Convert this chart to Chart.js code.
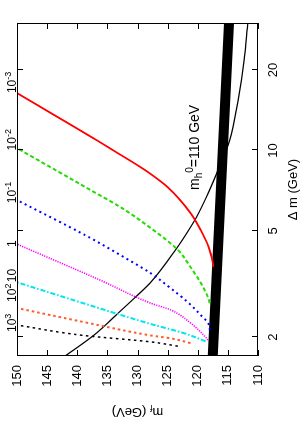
<!DOCTYPE html>
<html>
<head>
<meta charset="utf-8">
<script src="https://cdn.jsdelivr.net/npm/chart.js"></script>
<style>
  html, body { margin: 0; padding: 0; background: #fff; overflow: hidden; }
  /* the figure is drawn upright and then turned a quarter turn to the left */
  #wrap { position: absolute; left: 0; top: 427px; width: 427px; height: 300px;
          transform-origin: 0 0; transform: rotate(-90deg); }
</style>
</head>
<body>
<div id="wrap"><canvas id="c" width="427" height="300"></canvas></div>
<script>
// Achsen
const dmTicks = [2, 5, 10, 20];
const mfTicks = [110, 115, 120, 125, 130, 135, 140, 145, 150];

// Konturen (Δm in GeV, m_f in GeV)
const redDm = [16.4, 10.9, 10.0, 8.66, 8.16, 7.29, 5.83, 5.03, 4.35, 3.79, 3.66];
const redMf = [150, 136.7, 134, 129.5, 127.8, 125, 121.2, 119.5, 118.2, 117.5, 117.4];

const greenDm = [10.2, 7.11, 6.03, 5.12, 4.24, 3.66, 3.19, 2.82, 2.68];
const greenMf = [150, 137.8, 132.3, 127.8, 123.3, 121.2, 119.5, 118.3, 118.0];

const blueDm = [6.52, 4.70, 3.99, 3.47, 3.05, 2.71, 2.42, 2.26, 2.12];
const blueMf = [150, 137.8, 132.3, 127.8, 124.5, 121.7, 119.5, 118.3, 118.0];

const magentaDm = [4.46, 3.27, 2.68, 2.53, 2.26, 2.00, 1.95];
const magentaMf = [150, 136.2, 127.8, 124.5, 121.2, 118.7, 118.3];

const cyanDm = [3.21, 2.68, 2.24, 2.07, 1.93];
const cyanMf = [150, 139, 127.8, 122.3, 118.7];

const orangeDm = [2.57, 2.28, 2.03, 1.98, 1.90];
const orangeMf = [150, 139, 127.8, 124.5, 121.2];

const blackDm = [2.22, 2.03, 1.92, 1.85];
const blackMf = [150, 139, 127.8, 123.3];

// m_h0 = 110 GeV
const higgsDm = [1.70, 2.03, 2.46, 2.87, 3.21, 4.24, 5.16, 5.58, 6.98, 8.59, 10.9, 15.4, 21.8, 30.0];
const higgsMf = [142, 137.3, 133.2, 130, 127.8, 123.7, 121.2, 120.3, 118.2, 116.5, 114.7, 113.3, 112.3, 111.7];

// dicker Balken
const bandDm = [1.7, 30];
const bandMf = [117.5, 114.8];

// Beschriftung der Konturen am oberen Rand
const curveLabelBase = ['10', '10', '10', '1', '10', '10', '10'];
const curveLabelExp = ['-3', '-2', '-1', '', '', '2', '3'];
const curveLabelDm = [16.4, 10.0, 6.35, 4.35, 3.21, 2.71, 2.09];

const FONT = '"Liberation Sans", Arial, sans-serif';
const pts = (xs, ys) => xs.map((x, i) => ({ x, y: ys[i] })).sort((a, b) => a.x - b.x);

function line(data, color, width, dash) {
  return {
    data, showLine: true, borderColor: color, borderWidth: width,
    borderDash: dash || [], borderCapStyle: 'butt',
    cubicInterpolationMode: 'monotone',
    pointRadius: 0, fill: false
  };
}

// Text mit Hoch-/Tiefstellung, Stück für Stück
function drawRich(ctx, parts, x, y) {
  ctx.textAlign = 'left';
  ctx.textBaseline = 'alphabetic';
  parts.forEach(p => {
    if (!p.t) return;
    ctx.font = p.size + 'px ' + FONT;
    ctx.fillText(p.t, x, y + (p.dy || 0));
    x += ctx.measureText(p.t).width;
  });
}
function richWidth(ctx, parts) {
  let w = 0;
  parts.forEach(p => { if (!p.t) return; ctx.font = p.size + 'px ' + FONT; w += ctx.measureText(p.t).width; });
  return w;
}

const framePlugin = {
  id: 'frame',
  afterDraw(chart) {
    const { ctx, chartArea: a } = chart;
    const xs = chart.scales.x, ys = chart.scales.y;
    ctx.save();
    ctx.strokeStyle = '#000';
    ctx.fillStyle = '#000';
    ctx.lineWidth = 1;
    ctx.strokeRect(a.left + 0.5, a.top + 0.5, a.right - a.left - 1, a.bottom - a.top - 1);

    // Ticks nach innen, auf allen vier Seiten
    const tl = 6;
    ctx.beginPath();
    dmTicks.forEach(v => {
      const px = Math.round(xs.getPixelForValue(v)) + 0.5;
      ctx.moveTo(px, a.bottom); ctx.lineTo(px, a.bottom - tl);
      ctx.moveTo(px, a.top); ctx.lineTo(px, a.top + tl);
    });
    mfTicks.forEach(v => {
      const py = Math.round(ys.getPixelForValue(v)) + 0.5;
      ctx.moveTo(a.left, py); ctx.lineTo(a.left + tl, py);
      ctx.moveTo(a.right, py); ctx.lineTo(a.right - tl, py);
    });
    ctx.stroke();

    // Konturbeschriftung oberhalb des Rahmens
    curveLabelDm.forEach((v, i) => {
      const px = xs.getPixelForValue(v);
      drawRich(ctx, [
        { t: curveLabelBase[i], size: 12 },
        { t: curveLabelExp[i], size: 9, dy: -5 }
      ], px, a.top - 1);
    });

    // m_h0 = 110 GeV
    drawRich(ctx, [
      { t: 'm', size: 14 },
      { t: 'h', size: 10, dy: 3 },
      { t: '0', size: 10, dy: -6 },
      { t: '=110 GeV', size: 14 }
    ], xs.getPixelForValue(7.11), ys.getPixelForValue(119.8));

    // x-Achsentitel
    ctx.font = '13px ' + FONT;
    ctx.textAlign = 'center';
    ctx.textBaseline = 'alphabetic';
    ctx.fillText('\u0394 m (GeV)', (a.left + a.right) / 2, 297);

    // y-Achsentitel, gedreht
    const yt = [{ t: 'm', size: 13 }, { t: 'f', size: 9, dy: 3 }, { t: ' (GeV)', size: 13 }];
    ctx.translate(19, (a.top + a.bottom) / 2);
    ctx.rotate(-Math.PI / 2);
    drawRich(ctx, yt, -richWidth(ctx, yt) / 2, 0);
    ctx.restore();
  }
};

new Chart(document.getElementById('c'), {
  type: 'scatter',
  data: {
    datasets: [
      line(pts(redDm, redMf), '#ff0000', 1.8),
      line(pts(greenDm, greenMf), '#22dd00', 2, [4, 2.5]),
      line(pts(blueDm, blueMf), '#0000ff', 2, [2, 3.5]),
      line(pts(magentaDm, magentaMf), '#ff00ff', 1.6, [1.2, 1.2]),
      line(pts(cyanDm, cyanMf), '#00e5ee', 2, [5, 2, 1.5, 2]),
      line(pts(orangeDm, orangeMf), '#ff5a28', 2, [2.5, 3]),
      line(pts(blackDm, blackMf), '#000000', 1.5, [2.5, 3.5]),
      line(pts(higgsDm, higgsMf), '#000000', 1.2),
      line(pts(bandDm, bandMf), '#000000', 10)
    ]
  },
  options: {
    responsive: false,
    animation: false,
    devicePixelRatio: 1,
    layout: { padding: { top: 17, right: 23, left: 0, bottom: 0 } },
    plugins: { legend: { display: false }, tooltip: { enabled: false } },
    scales: {
      x: {
        type: 'logarithmic', min: 1.7, max: 30,
        grid: { display: false, drawTicks: false }, border: { display: false },
        afterBuildTicks: s => { s.ticks = dmTicks.map(v => ({ value: v })); },
        afterFit: s => { s.height = 42; },
        ticks: { color: '#000', font: { family: FONT, size: 13 }, padding: 8,
                 autoSkip: false, maxRotation: 0, callback: v => String(v) }
      },
      y: {
        type: 'linear', min: 110, max: 150,
        grid: { display: false, drawTicks: false }, border: { display: false },
        afterBuildTicks: s => { s.ticks = mfTicks.map(v => ({ value: v })); },
        afterFit: s => { s.width = 71; },
        ticks: { color: '#000', font: { family: FONT, size: 13 }, padding: 9,
                 autoSkip: false, callback: v => String(v) }
      }
    }
  },
  plugins: [framePlugin]
});
</script>
</body>
</html>
